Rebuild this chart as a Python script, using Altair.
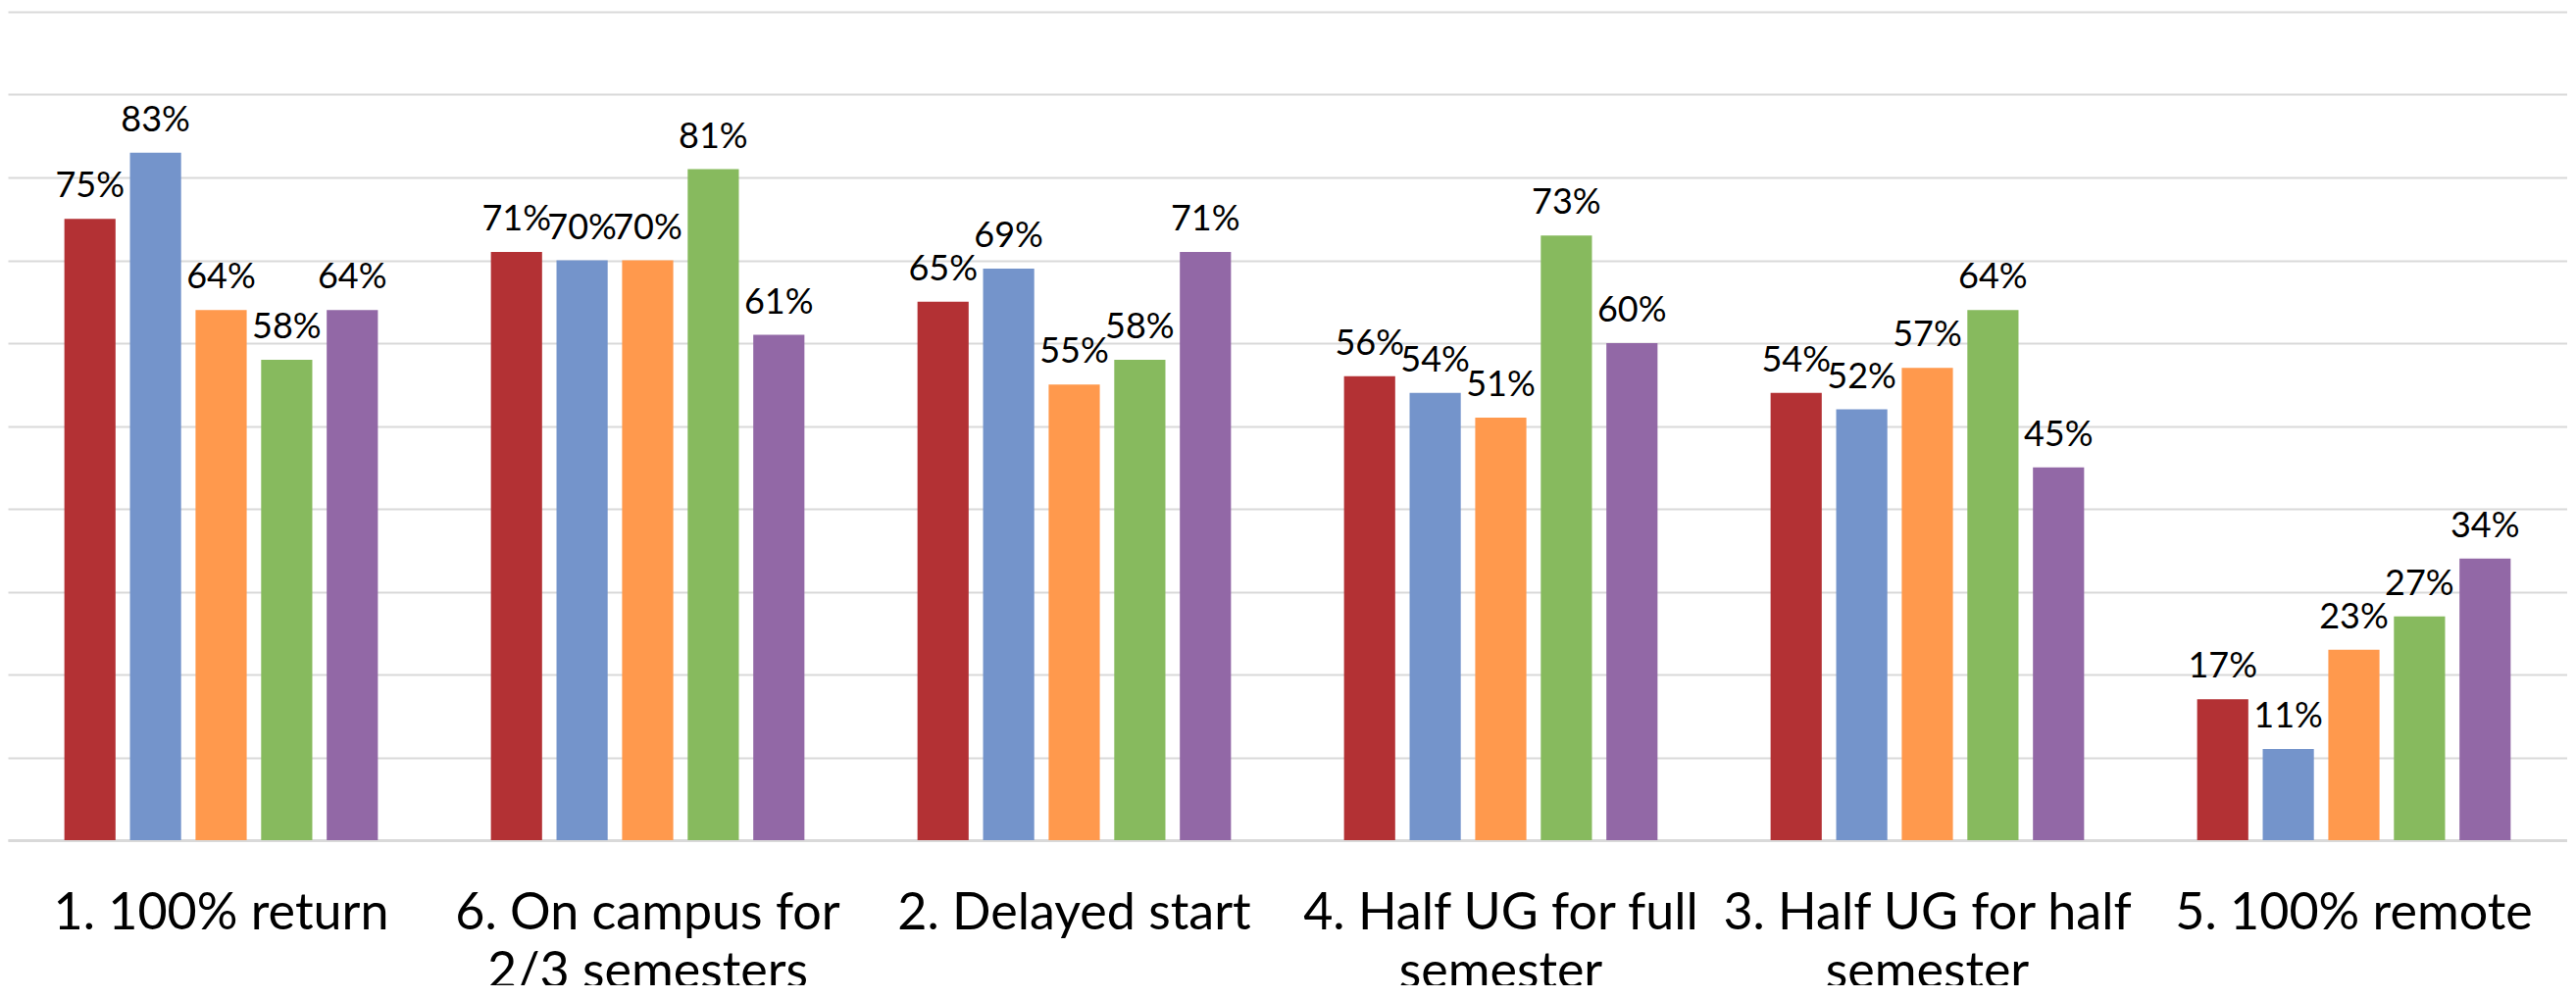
import altair as alt
import pandas as pd

categories = [
    "1. 100% return",
    "6. On campus for 2/3 semesters",
    "2. Delayed start",
    "4. Half UG for full semester",
    "3. Half UG for half semester",
    "5. 100% remote",
]
label_lines = {
    "1. 100% return": ["1. 100% return"],
    "6. On campus for 2/3 semesters": ["6. On campus for", "2/3 semesters"],
    "2. Delayed start": ["2. Delayed start"],
    "4. Half UG for full semester": ["4. Half UG for full", "semester"],
    "3. Half UG for half semester": ["3. Half UG for half", "semester"],
    "5. 100% remote": ["5. 100% remote"],
}
series = ["Series 1", "Series 2", "Series 3", "Series 4", "Series 5"]
s1 = [0.75, 0.71, 0.65, 0.56, 0.54, 0.17]
s2 = [0.83, 0.70, 0.69, 0.54, 0.52, 0.11]
s3 = [0.64, 0.70, 0.55, 0.51, 0.57, 0.23]
s4 = [0.58, 0.81, 0.58, 0.73, 0.64, 0.27]
s5 = [0.64, 0.61, 0.71, 0.60, 0.45, 0.34]
colors = ["#B33134", "#7494CB", "#FF994D", "#87BA5E", "#9268A6"]
grid_values = [0, 0.1, 0.2, 0.3, 0.4, 0.5, 0.6, 0.7, 0.8, 0.9, 1.0]

rows = []
for name, vals in zip(series, [s1, s2, s3, s4, s5]):
    for cat, v in zip(categories, vals):
        rows.append({"category": cat, "series": name, "value": v})
df = pd.DataFrame(rows)


def arr(lines):
    return "[" + ", ".join("'" + l + "'" for l in lines) + "]"


expr = ""
for cat in categories:
    expr += "datum.value == '" + cat + "' ? " + arr(label_lines[cat]) + " : "
expr += "datum.label"

base = alt.Chart(df).encode(
    x=alt.X(
        "category:N",
        sort=categories,
        scale=alt.Scale(paddingInner=0.265, paddingOuter=0.1325),
        axis=alt.Axis(
            title=None,
            labelExpr=expr,
            labelAngle=0,
            labelFontSize=52,
            labelFont="Lato",
            labelColor="#000000",
            labelPadding=49,
            labelBaseline="top",
            labelLineHeight=60,
            labelLimit=1000,
            labelOverlap=False,
            ticks=False,
            domainColor="#D9D9D9",
            domainWidth=3,
        ),
    ),
    xOffset=alt.XOffset(
        "series:N", sort=series, scale=alt.Scale(paddingInner=0.22, paddingOuter=0)
    ),
    y=alt.Y(
        "value:Q",
        scale=alt.Scale(domain=[0, 1]),
        axis=alt.Axis(
            title=None,
            labels=False,
            ticks=False,
            domain=False,
            values=grid_values,
            gridColor="#D9D9D9",
            gridWidth=2,
        ),
    ),
)

bars = base.mark_bar().encode(
    color=alt.Color("series:N", scale=alt.Scale(domain=series, range=colors), legend=None)
)
text = base.mark_text(
    baseline="alphabetic", dy=-22, fontSize=36, font="Lato", color="#000000"
).encode(text=alt.Text("value:Q", format=".0%"))

chart = (
    (bars + text)
    .properties(
        width=2610,
        height=845,
        autosize=alt.AutoSizeParams(type="none"),
        padding={"left": 0, "top": 4, "right": 0, "bottom": 148},
    )
    .configure_view(stroke=None)
)

chart.save("out.html", embed_options={"renderer": "svg", "actions": False})
